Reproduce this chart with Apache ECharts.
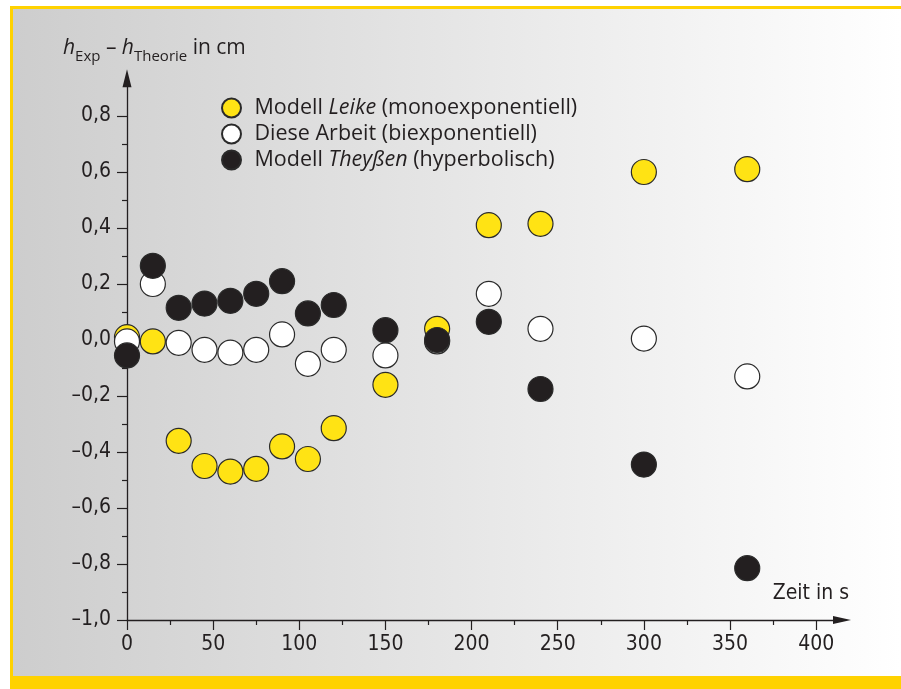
<!DOCTYPE html>
<html>
<head>
<meta charset="utf-8">
<script src="https://cdn.jsdelivr.net/npm/echarts@6/dist/echarts.min.js"></script>
<style>html,body{margin:0;padding:0;background:#fff}#c{width:901px;height:689px}</style>
</head>
<body>
<div id="c"></div>
<script>
// Data
const times = [0, 15, 30, 45, 60, 75, 90, 105, 120, 150, 180, 210, 240, 300, 360];
const leike = [0.01, -0.005, -0.36, -0.45, -0.47, -0.46, -0.38, -0.425, -0.315, -0.16, 0.04, 0.41, 0.415, 0.60, 0.61];
const arbeit = [-0.005, 0.20, -0.01, -0.035, -0.045, -0.035, 0.02, -0.085, -0.035, -0.055, -0.005, 0.165, 0.04, 0.005, -0.13];
const theyssen = [-0.055, 0.265, 0.115, 0.13, 0.14, 0.165, 0.21, 0.095, 0.125, 0.035, 0.0, 0.065, -0.175, -0.445, -0.815];
const yMajor = [-1.0, -0.8, -0.6, -0.4, -0.2, 0.0, 0.2, 0.4, 0.6, 0.8];
const yMinor = [-0.9, -0.7, -0.5, -0.3, -0.1, 0.1, 0.3, 0.5, 0.7];
const xMajor = [0, 50, 100, 150, 200, 250, 300, 350, 400];
const xMinor = [25, 75, 125, 175, 225, 275, 325, 375];
const seriesNames = ['Modell Leike (monoexponentiell)', 'Diese Arbeit (biexponentiell)', 'Modell Theyßen (hyperbolisch)'];

const ink = '#231f20';
const labelFont = '"DejaVu Sans Condensed", "Liberation Sans Narrow", sans-serif';
const textFont = '"Open Sans", "Noto Sans", sans-serif';

function pts(ys) { return times.map((t, i) => [t, ys[i]]); }
function fmtY(v) { return (Math.round(v * 10) / 10).toFixed(1).replace('.', ',').replace('-', '\u2013'); }

const chart = echarts.init(document.getElementById('c'), null, { renderer: 'canvas' });
const W = 901, H = 689;
const symbolStyle = { borderColor: '#2a2a2a', borderWidth: 1.2, opacity: 1 };
const yMax = 0.935;

chart.setOption({
  animation: false,
  grid: { left: 127, right: 59, top: 340 - yMax * 280, bottom: 69, containLabel: false },
  graphic: [
    { type: 'rect', z: -20, silent: true, shape: { x: 10, y: 7, width: W - 10, height: 669 },
      style: { fill: new echarts.graphic.LinearGradient(0, 0, 1, 0, [
        { offset: 0, color: '#cdcdcd' }, { offset: 0.5, color: '#e6e6e6' }, { offset: 1, color: '#ffffff' }]) } },
    { type: 'rect', z: -10, silent: true, shape: { x: 10, y: 6, width: W - 10, height: 3 }, style: { fill: '#ffd200' } },
    { type: 'rect', z: -10, silent: true, shape: { x: 10, y: 6, width: 3, height: 672 }, style: { fill: '#ffd200' } },
    { type: 'rect', z: -10, silent: true, shape: { x: 10, y: 676, width: W - 10, height: 13 }, style: { fill: '#ffd200' } },
    { type: 'text', left: 63, top: 38, style: {
        text: '{h|h}{s|Exp}{n| \u2013 }{h|h}{s|Theorie}{n| in cm}',
        fill: ink,
        rich: {
          h: { fontFamily: textFont, fontStyle: 'italic', fontSize: 21, verticalAlign: 'bottom', padding: [0, 0, 5, 0], fill: ink },
          n: { fontFamily: textFont, fontSize: 21, verticalAlign: 'bottom', padding: [0, 0, 5, 0], fill: ink },
          s: { fontFamily: textFont, fontSize: 15, verticalAlign: 'bottom', fill: ink }
        } } },
    { type: 'text', right: 52, top: 583, style: { text: 'Zeit in s', font: '21px ' + labelFont, fill: ink } }
  ],
  legend: {
    orient: 'vertical', left: 216, top: 92, itemWidth: 30, itemHeight: 19, itemGap: 4,
    icon: 'circle',
    data: seriesNames,
    formatter: function (name) {
      if (name === seriesNames[0]) return '{a|Modell }{i|Leike}{a| (monoexponentiell)}';
      if (name === seriesNames[1]) return '{a|Diese Arbeit (biexponentiell)}';
      return '{a|Modell }{i|Theyßen}{a| (hyperbolisch)}';
    },
    textStyle: {
      padding: [0, 0, 0, 3],
      rich: {
        a: { fontFamily: textFont, fontSize: 21.5, lineHeight: 19, color: ink },
        i: { fontFamily: textFont, fontSize: 21.5, lineHeight: 19, fontStyle: 'italic', color: ink }
      }
    }
  },
  xAxis: [
    { type: 'value', min: 0, max: 415,
      axisLine: { show: true, onZero: false, symbol: ['none', 'triangle'], symbolSize: [8, 18], lineStyle: { color: ink, width: 1.3 } },
      axisTick: { show: true, customValues: xMajor, length: 10, lineStyle: { color: ink, width: 1.2 } },
      axisLabel: { customValues: xMajor, margin: 14, fontFamily: labelFont, fontSize: 21, color: ink },
      splitLine: { show: false } },
    { type: 'value', min: 0, max: 415, position: 'bottom',
      axisLine: { show: false, onZero: false },
      axisTick: { show: true, customValues: xMinor, length: 5, lineStyle: { color: ink, width: 1.2 } },
      axisLabel: { show: false }, splitLine: { show: false } }
  ],
  yAxis: [
    { type: 'value', min: -1.0, max: yMax,
      axisLine: { show: true, onZero: false, symbol: ['none', 'triangle'], symbolSize: [9, 18], lineStyle: { color: ink, width: 1.3 } },
      axisTick: { show: true, customValues: yMajor, length: 10, lineStyle: { color: ink, width: 1.2 } },
      axisLabel: { customValues: yMajor, margin: 16, formatter: fmtY, fontFamily: labelFont, fontSize: 21, color: ink },
      splitLine: { show: false } },
    { type: 'value', min: -1.0, max: yMax, position: 'left', offset: 0,
      axisLine: { show: false, onZero: false },
      axisTick: { show: true, customValues: yMinor, length: 5, lineStyle: { color: ink, width: 1.2 } },
      axisLabel: { show: false }, splitLine: { show: false } }
  ],
  series: [
    { name: seriesNames[0], type: 'scatter', symbolSize: 25, data: pts(leike),
      itemStyle: Object.assign({ color: '#ffe314' }, symbolStyle) },
    { name: seriesNames[1], type: 'scatter', symbolSize: 25, data: pts(arbeit),
      itemStyle: Object.assign({ color: '#ffffff' }, symbolStyle) },
    { name: seriesNames[2], type: 'scatter', symbolSize: 25, data: pts(theyssen),
      itemStyle: Object.assign({ color: '#231f20' }, symbolStyle) }
  ]
});
</script>
</body>
</html>
